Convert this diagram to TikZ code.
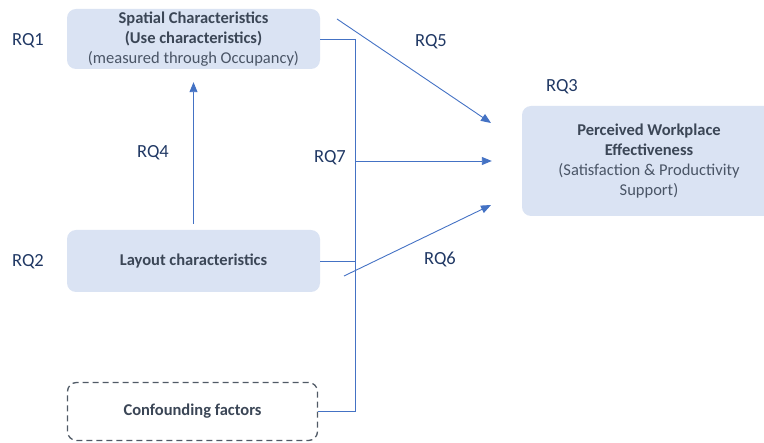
\documentclass[tikz,border=0pt]{standalone}
\usepackage{fontspec}
\setmainfont{Carlito}
\usetikzlibrary{arrows.meta,calc}
\definecolor{boxfill}{HTML}{DAE3F3}
\definecolor{linec}{HTML}{4472C4}
\definecolor{rqc}{HTML}{203864}
\definecolor{boldc}{HTML}{3B4656}
\definecolor{regc}{HTML}{4A5566}
\definecolor{dashc}{HTML}{505A66}
\begin{document}
\begin{tikzpicture}[x=1pt,y=-1pt,
  box/.style={rounded corners=9pt, fill=boxfill, draw=none, align=center,
    font=\fontsize{16.5}{20}\selectfont, text=regc, inner sep=0pt},
  dbox/.style={rounded corners=9pt, draw=dashc, dashed, dash pattern=on 6pt off 4pt, line width=1.3pt, fill=white, align=center,
    font=\fontsize{16.5}{20}\selectfont, text=boldc, inner sep=0pt},
  rq/.style={font=\fontsize{18.5}{22}\selectfont, text=rqc, inner sep=0pt},
  conn/.style={draw=linec, line width=0.9pt},
  arr/.style={conn, -{Triangle[length=10pt,width=8pt]}}]
\useasboundingbox (0,0) rectangle (764,443);
\node[box, minimum width=253pt, minimum height=60pt] (sp) at (193.5,39)
  {\textcolor{boldc}{\bfseries Spatial Characteristics}\\\textcolor{boldc}{\bfseries (Use characteristics)}\\(measured through Occupancy)};
\node[box, minimum width=253pt, minimum height=62pt] (lay) at (193.5,261)
  {\textcolor{boldc}{\bfseries Layout characteristics}};
\node[dbox, minimum width=250pt, minimum height=58pt] (cf) at (192.5,411.5)
  {\bfseries Confounding factors};
\node[box, minimum width=254pt, minimum height=110pt] (pw) at (649,161)
  {\textcolor{boldc}{\bfseries Perceived Workplace}\\\textcolor{boldc}{\bfseries Effectiveness}\\(Satisfaction \& Productivity\\Support)};
\node[rq] (rq1) at (28,41) {RQ1};
\node[rq] (rq2) at (28,262) {RQ2};
\node[rq] (rq4) at (153,153) {RQ4};
\node[rq] (rq7) at (330,158) {RQ7};
\node[rq] (rq5) at (431,42) {RQ5};
\node[rq] (rq3) at (562,87) {RQ3};
\node[rq] (rq6) at (440,259) {RQ6};
% spine
\coordinate (spx) at (355,0);
\draw[conn] (sp.east) -- (sp.east -| spx) |- (cf.east);
\draw[conn] (lay.east) -- (lay.east -| spx);
\coordinate (m1) at (355,161);
\draw[arr] (m1) -- ([xshift=-30pt]pw.west);
\coordinate (a5) at (337,19);
\coordinate (t5) at (491,123);
\draw[arr] (a5) -- (t5);
\coordinate (a6) at (344,276);
\coordinate (t6) at (491,205);
\draw[arr] (a6) -- (t6);
\draw[arr] ([yshift=6pt]lay.north) -- ([yshift=-13pt]sp.south);
\end{tikzpicture}
\end{document}
